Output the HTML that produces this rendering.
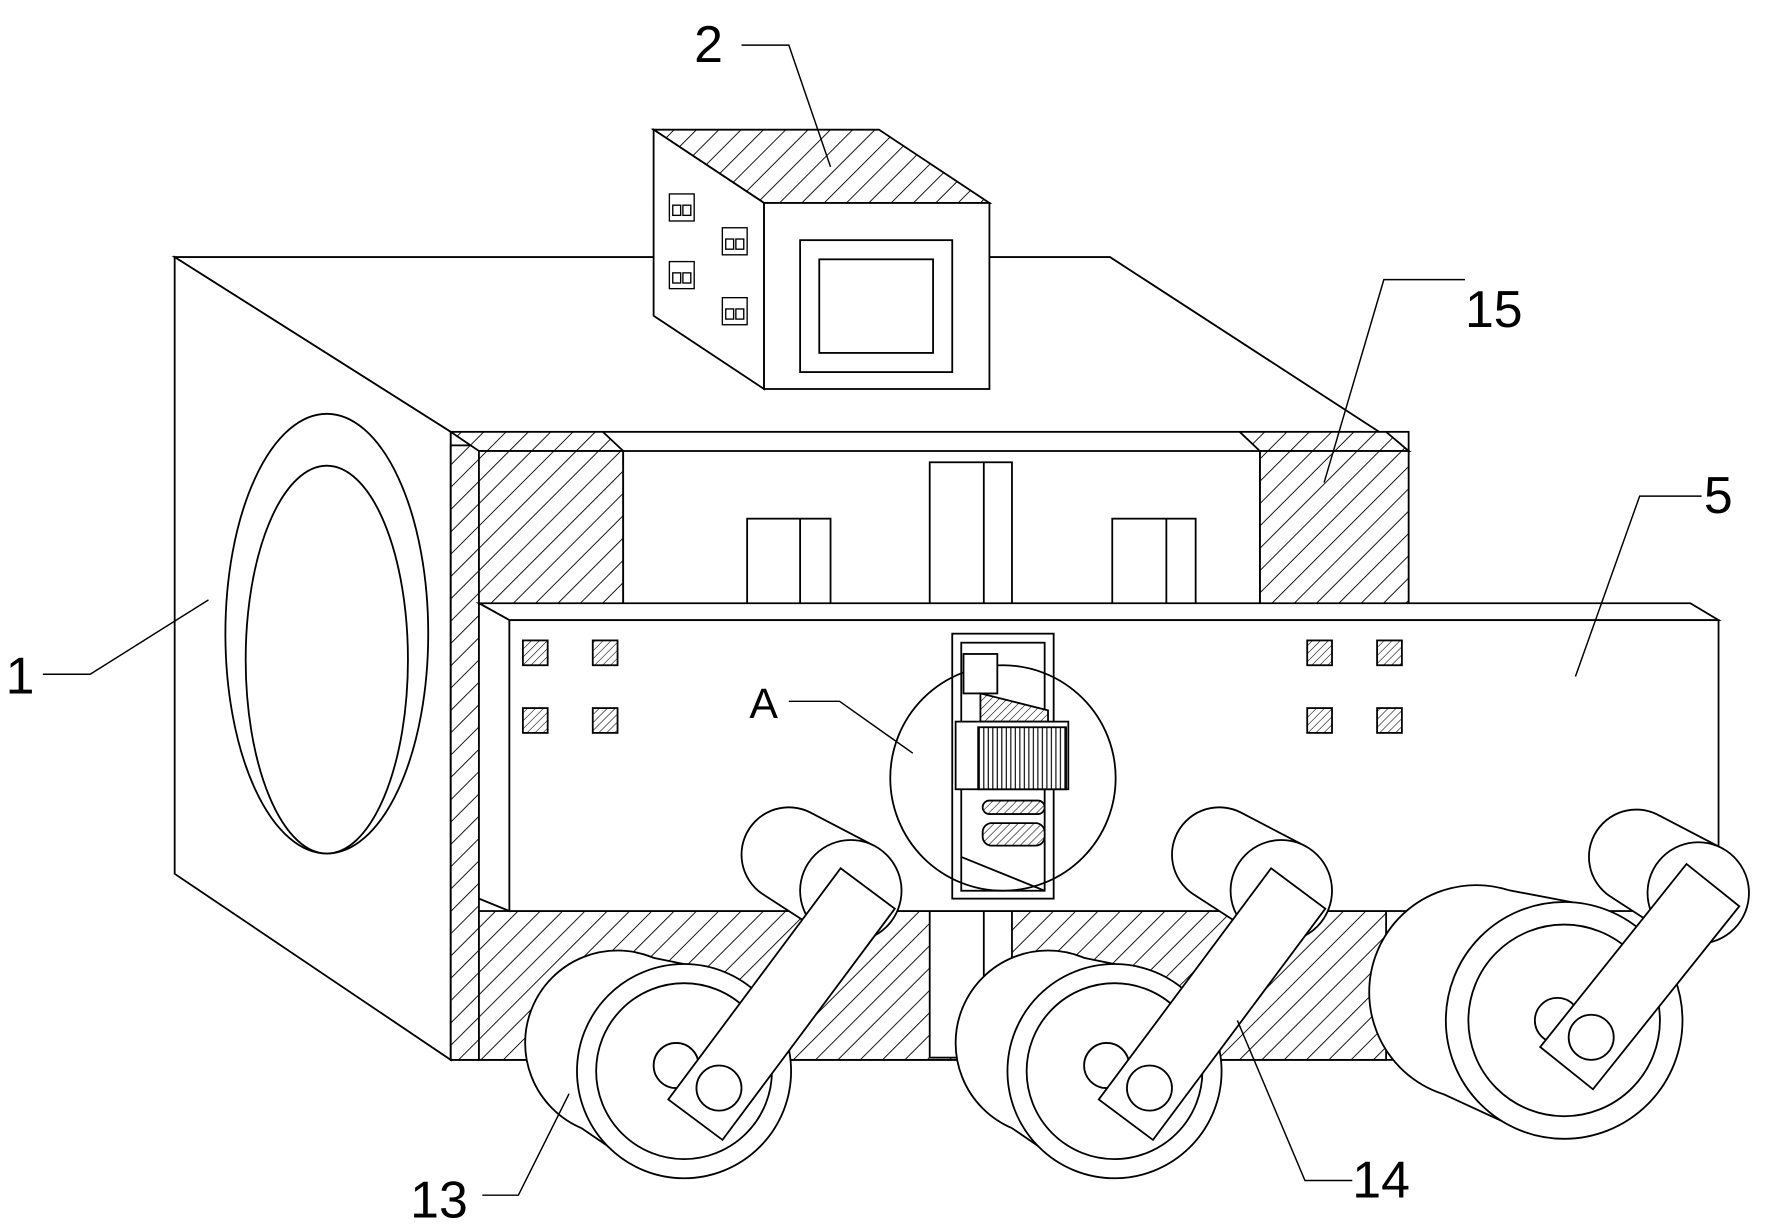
<!DOCTYPE html>
<html><head><meta charset="utf-8"><style>
html,body{margin:0;padding:0;background:#fff;}
svg{display:block;}
text{font-family:"Liberation Sans",sans-serif;fill:#000;}
</style></head><body>
<svg id="s" width="1767" height="1229" viewBox="0 0 1568 1090" preserveAspectRatio="none" xmlns="http://www.w3.org/2000/svg">
<defs>
<pattern id="h" width="14" height="14" patternUnits="userSpaceOnUse" patternTransform="rotate(45)">
<rect width="14" height="14" fill="#fff"/><line x1="0" y1="0" x2="0" y2="14" stroke="#000" stroke-width="1.6"/></pattern>
<pattern id="hs" width="5" height="5" patternUnits="userSpaceOnUse" patternTransform="rotate(45)">
<rect width="5" height="5" fill="#fff"/><line x1="0" y1="0" x2="0" y2="5" stroke="#000" stroke-width="1"/></pattern>
<pattern id="vs" width="4" height="4" patternUnits="userSpaceOnUse">
<rect width="4" height="4" fill="#fff"/><line x1="1" y1="0" x2="1" y2="4" stroke="#000" stroke-width="1"/></pattern>
</defs>
<g fill="#fff" stroke="#000" stroke-width="1.6">
<polygon points="155,228 985,228 1250,400 400,383"/>
<polygon points="155,228 400,383 400,940 155,775"/>
<ellipse cx="290" cy="562" rx="90" ry="195"/>
<ellipse cx="290" cy="585" rx="72" ry="172"/>
<rect x="400" y="383" width="850" height="557"/>
<rect x="400" y="395" width="25" height="545" fill="url(#h)"/>
<polygon points="400,383 425,400 553,400 535,383" fill="url(#h)"/>
<rect x="425" y="400" width="128" height="140" fill="url(#h)"/>
<polygon points="1100,383 1118,400 1250,400 1230,383" fill="url(#h)"/>
<rect x="1118" y="400" width="132" height="140" fill="url(#h)"/>
<rect x="425" y="808" width="805" height="132" fill="url(#h)"/>
<rect x="553" y="400" width="565" height="140"/>
<rect x="663" y="460" width="74" height="80"/><line x1="710" y1="460" x2="710" y2="540"/>
<rect x="987" y="460" width="74" height="80"/><line x1="1035" y1="460" x2="1035" y2="540"/>
<rect x="825" y="410" width="73" height="130"/><line x1="873" y1="410" x2="873" y2="540"/>
<rect x="825" y="808" width="73" height="130"/><line x1="873" y1="808" x2="873" y2="938"/>
<polygon points="425,535 1500,535 1525,550 452,550"/>
<polygon points="425,535 452,550 452,808 425,797"/>
<rect x="452" y="550" width="1073" height="258"/>
<rect x="464" y="568" width="22" height="22" fill="url(#hs)"/><rect x="526" y="568" width="22" height="22" fill="url(#hs)"/>
<rect x="464" y="628" width="22" height="22" fill="url(#hs)"/><rect x="526" y="628" width="22" height="22" fill="url(#hs)"/>
<rect x="1160" y="568" width="22" height="22" fill="url(#hs)"/><rect x="1222" y="568" width="22" height="22" fill="url(#hs)"/>
<rect x="1160" y="628" width="22" height="22" fill="url(#hs)"/><rect x="1222" y="628" width="22" height="22" fill="url(#hs)"/>
<rect x="845" y="562" width="90" height="235"/>
<rect x="853" y="570" width="74" height="220"/>
<circle cx="890" cy="690" r="100" fill="none"/>
<rect x="855" y="580" width="30" height="35"/>
<polygon points="870,615 930,630 930,640 870,640" fill="url(#hs)"/>
<rect x="848" y="640" width="100" height="60"/>
<rect x="868" y="645" width="78" height="55" fill="url(#vs)"/>
<rect x="872" y="710" width="55" height="12" rx="6" fill="url(#hs)"/>
<rect x="872" y="730" width="55" height="20" rx="8" fill="url(#hs)"/>
<line x1="853" y1="760" x2="927" y2="790"/>
<polygon points="580,115 780,115 878,180 678,180" fill="url(#h)"/>
<polygon points="580,115 678,180 678,345 580,280"/>
<rect x="678" y="180" width="200" height="165"/>
<rect x="710" y="213" width="135" height="117"/>
<rect x="727" y="230" width="101" height="83"/>
<g stroke-width="1.2">
<rect x="594" y="172" width="22" height="24"/><rect x="597" y="182" width="7" height="9"/><rect x="606" y="182" width="7" height="9"/>
<rect x="594" y="232" width="22" height="24"/><rect x="597" y="242" width="7" height="9"/><rect x="606" y="242" width="7" height="9"/>
<rect x="641" y="202" width="22" height="24"/><rect x="644" y="212" width="7" height="9"/><rect x="653" y="212" width="7" height="9"/>
<rect x="641" y="264" width="22" height="24"/><rect x="644" y="274" width="7" height="9"/><rect x="653" y="274" width="7" height="9"/>
</g>
</g>
<g id="wh" fill="#fff" stroke="#000" stroke-width="1.6"></g>
<g fill="none" stroke="#000" stroke-width="1.3">
<polyline points="658,40 700,40 737,148"/>
<polyline points="1300,248 1228,248 1175,428"/>
<polyline points="1510,440 1455,440 1398,600"/>
<polyline points="38,598 80,598 185,532"/>
<polyline points="700,622 745,622 810,668"/>
<polyline points="428,1060 460,1060 505,970"/>
<polyline points="1200,1047 1158,1047 1098,905"/>
</g>
<g font-size="46">
<text x="616" y="55">2</text>
<text x="1300" y="290">15</text>
<text x="1512" y="455">5</text>
<text x="5" y="615">1</text>
<text x="665" y="637" font-size="38">A</text>
<text x="364" y="1080">13</text>
<text x="1200" y="1062">14</text>
</g>
</svg>
<script>
(function(){
var g=document.getElementById('wh'),out='';
function cyl(x1,y1,r1,x2,y2,r2){
 var dx=x2-x1,dy=y2-y1,L=Math.hypot(dx,dy),nx=-dy/L,ny=dx/L;
 var p=[[x1+nx*r1,y1+ny*r1],[x2+nx*r2,y2+ny*r2],[x2-nx*r2,y2-ny*r2],[x1-nx*r1,y1-ny*r1]];
 out+='<circle cx="'+x1+'" cy="'+y1+'" r="'+r1+'"/>';
 out+='<polygon stroke="none" points="'+p.map(function(a){return a.join(',')}).join(' ')+'"/>';
 out+='<line x1="'+p[0][0]+'" y1="'+p[0][1]+'" x2="'+p[1][0]+'" y2="'+p[1][1]+'"/>';
 out+='<line x1="'+p[3][0]+'" y1="'+p[3][1]+'" x2="'+p[2][0]+'" y2="'+p[2][1]+'"/>';
 out+='<circle cx="'+x2+'" cy="'+y2+'" r="'+r2+'"/>';
}
function wheel(o,rb,rf,ri,hub,rx,ry,ax1,ay1,ax2,ay2){
 cyl(rx,ry,42,rx+55,ry+32,45);
 cyl(o[0],o[1],rb,o[2],o[3],rf);
 out+='<circle cx="'+o[2]+'" cy="'+o[3]+'" r="'+ri+'"/>';
 out+='<circle cx="'+hub[0]+'" cy="'+hub[1]+'" r="20"/>';
 var dx=ax2-ax1,dy=ay2-ay1,L=Math.hypot(dx,dy),ux=dx/L,uy=dy/L,nx=-uy*30,ny=ux*30;
 var bx=ax1-ux*35,by=ay1-uy*35;
 out+='<polygon points="'+[bx-nx,by-ny,ax2-nx,ay2-ny,ax2+nx,ay2+ny,bx+nx,by+ny].join(',')+'"/>';
 out+='<circle cx="'+ax1+'" cy="'+ay1+'" r="20"/>';
}
wheel([548,925,607,950],82,95,78,[600,945],700,758,638,965,770,788);
wheel([930,925,989,950],82,95,78,[982,945],1082,758,1020,965,1152,788);
wheel([1310,880,1388,905],95,105,85,[1382,905],1452,760,1412,920,1520,785);
g.innerHTML=out;
})();
</script>
</body></html>
